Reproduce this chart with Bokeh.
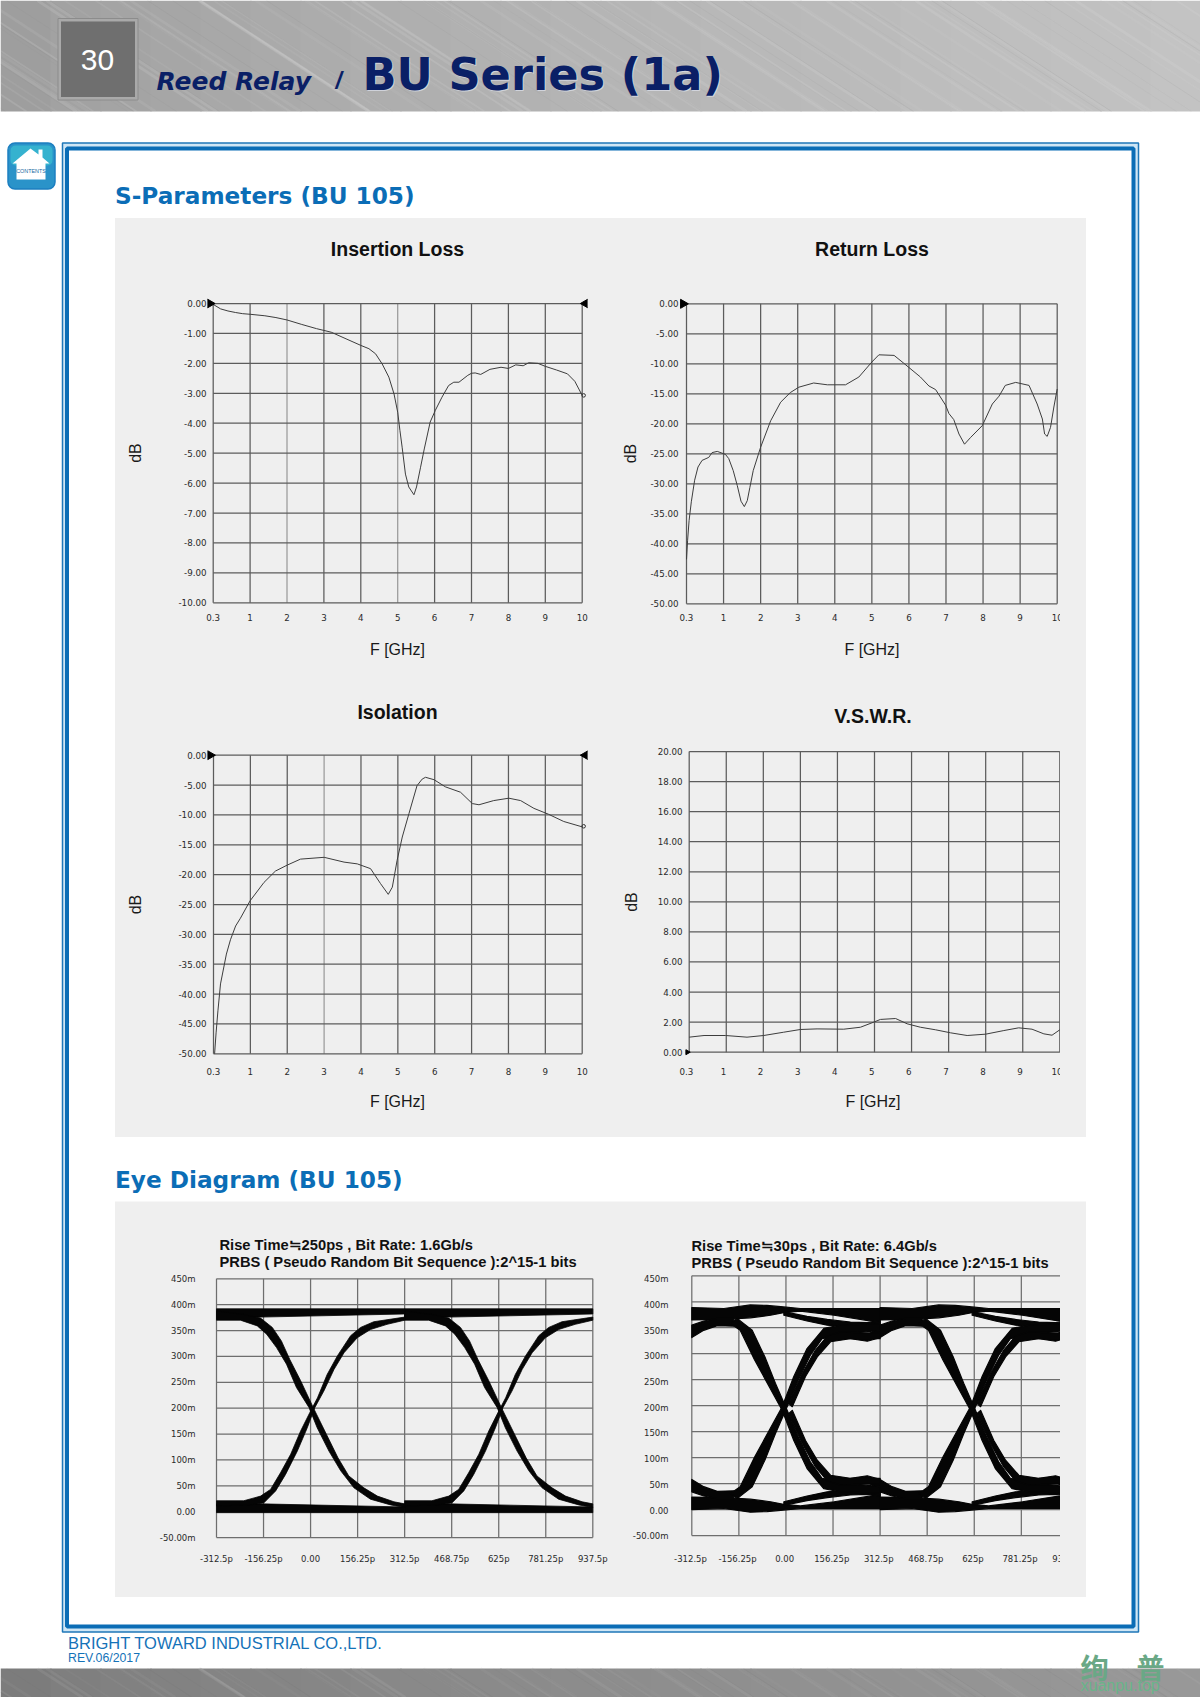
import math
from bokeh.plotting import figure
from bokeh.models import Range1d, LinearAxis, FixedTicker, Title
from bokeh.core.properties import value
from bokeh.embed import file_html
from bokeh.resources import INLINE

# ---------------- data ----------------
FREQ_POS = [0, 1, 2, 3, 4, 5, 6, 7, 8, 9, 10]
FREQ_LABELS = ["0.3", "1", "2", "3", "4", "5", "6", "7", "8", "9", "10"]

IL_TICKS = [0, -1, -2, -3, -4, -5, -6, -7, -8, -9, -10]
IL_LABELS = ["0.00", "-1.00", "-2.00", "-3.00", "-4.00", "-5.00", "-6.00", "-7.00", "-8.00", "-9.00", "-10.00"]
DB50_TICKS = [0, -5, -10, -15, -20, -25, -30, -35, -40, -45, -50]
DB50_LABELS = ["0.00", "-5.00", "-10.00", "-15.00", "-20.00", "-25.00", "-30.00", "-35.00", "-40.00", "-45.00", "-50.00"]
VSWR_TICKS = [0, 2, 4, 6, 8, 10, 12, 14, 16, 18, 20]
VSWR_LABELS = ["0.00", "2.00", "4.00", "6.00", "8.00", "10.00", "12.00", "14.00", "16.00", "18.00", "20.00"]

il_x = [0, .2, .4, .6, .8, 1, 1.4, 1.7, 2, 2.4, 2.8, 3, 3.2, 3.6, 4, 4.22, 4.4, 4.58, 4.76, 4.9, 5, 5.06, 5.12, 5.21, 5.3, 5.44, 5.51, 5.62, 5.72, 5.88, 6.02, 6.2, 6.38, 6.52, 6.66, 6.9, 7, 7.1, 7.25, 7.5, 7.8, 8, 8.2, 8.4, 8.55, 8.8, 9, 9.3, 9.6, 9.8, 10]
il_y = [-.03, -.18, -.25, -.30, -.34, -.36, -.41, -.47, -.55, -.70, -.84, -.90, -.96, -1.18, -1.40, -1.51, -1.68, -2.02, -2.46, -3.02, -3.63, -4.24, -4.8, -5.7, -6.13, -6.39, -6.13, -5.47, -4.86, -3.96, -3.57, -3.13, -2.74, -2.63, -2.63, -2.4, -2.33, -2.32, -2.37, -2.2, -2.13, -2.17, -2.05, -2.08, -1.98, -2.0, -2.1, -2.22, -2.35, -2.6, -3.07]

rl_x = [0, .03, .07, .13, .22, .31, .42, .6, .69, .83, 1.05, 1.14, 1.26, 1.37, 1.47, 1.56, 1.64, 1.71, 1.8, 2, 2.27, 2.54, 2.8, 3.03, 3.43, 3.8, 4.29, 4.65, 5, 5.19, 5.6, 5.86, 6.31, 6.54, 6.72, 6.99, 7.08, 7.21, 7.35, 7.5, 7.66, 7.98, 8.25, 8.43, 8.6, 8.88, 9.24, 9.46, 9.6, 9.66, 9.73, 9.82, 9.91, 10]
rl_y = [-42.6, -39.4, -36.1, -33, -29.4, -27.2, -26.1, -25.6, -24.8, -24.6, -25.1, -25.8, -27.8, -30.3, -32.9, -33.8, -32.8, -30.6, -27.8, -23.9, -19.5, -16.4, -14.8, -13.9, -13.2, -13.5, -13.5, -12.2, -9.7, -8.5, -8.6, -9.9, -12.2, -13.7, -14.3, -16.9, -18.3, -19.3, -21.7, -23.4, -22.3, -20.3, -16.7, -15.4, -13.6, -13.1, -13.6, -16.7, -19.2, -21.7, -22.1, -20.6, -17.2, -14.2]

iso_x = [.03, .07, .12, .19, .35, .46, .6, .73, .99, 1.37, 1.68, 2, 2.36, 3, 3.54, 3.9, 4.26, 4.53, 4.74, 4.85, 4.98, 5.12, 5.3, 5.52, 5.66, 5.75, 5.98, 6.29, 6.7, 7.02, 7.2, 7.6, 8.01, 8.33, 8.69, 9.09, 9.5, 10]
iso_y = [-50, -46.5, -42.8, -38.3, -33.3, -30.9, -28.6, -27.3, -24.4, -21.3, -19.4, -18.4, -17.4, -17.1, -17.9, -18.2, -19.0, -21.5, -23.3, -22.1, -17.6, -13.7, -9.8, -5.1, -4.0, -3.7, -4.1, -5.3, -6.2, -8.1, -8.3, -7.6, -7.2, -7.6, -8.9, -9.9, -11.1, -12.0]

vswr_x = [0, .4, .98, 1.56, 2.01, 2.55, 3, 3.45, 4.17, 4.62, 4.98, 5.16, 5.57, 5.88, 6.24, 6.65, 7.05, 7.5, 8, 8.49, 8.89, 9.25, 9.57, 9.79, 10]
vswr_y = [1.0, 1.11, 1.11, 1.0, 1.11, 1.33, 1.51, 1.55, 1.53, 1.66, 2.0, 2.18, 2.24, 1.89, 1.66, 1.49, 1.29, 1.11, 1.2, 1.44, 1.62, 1.53, 1.22, 1.13, 1.49]

EYE_T_TICKS = [-312.5, -156.25, 0, 156.25, 312.5, 468.75, 625, 781.25, 937.5]
EYE_T_LABELS = ["-312.5p", "-156.25p", "0.00", "156.25p", "312.5p", "468.75p", "625p", "781.25p", "937.5p"]
EYE_V_TICKS = [450, 400, 350, 300, 250, 200, 150, 100, 50, 0, -50]
EYE_V_LABELS = ["450m", "400m", "350m", "300m", "250m", "200m", "150m", "100m", "50m", "0.00", "-50.00m"]
PERIOD = 625

# eye 1 (1.6 Gb/s): each band = (t, mV) along one edge, then (t, mV) along the other, for one bit period
e1_fall = ([-312.5, -222, -166, -127, -97, -69, -33, 9, 53, 91, 127, 177, 222, 277, 312.5],
           [388, 381, 374, 356, 330, 294, 253, 201, 149, 104, 69, 46, 30, 19, 15],
           [-312.5, -233, -177, -146, -113, -80, -47, -5, 22, 61, 100, 144, 199, 266, 312.5],
           [370, 370, 359, 343, 317, 285, 240, 201, 162, 117, 79, 46, 24, 13, 8])
e1_rise = ([-312.5, -222, -166, -133, -100, -66, -33, -2, 23, 55, 89, 133, 166, 210, 312.5],
           [21, 21, 30, 43, 75, 111, 156, 192, 220, 265, 301, 340, 356, 367, 376],
           [-312.5, -199, -155, -116, -83, -44, -11, 14, 44, 78, 111, 155, 199, 254, 312.5],
           [11, 13, 17, 40, 72, 117, 162, 201, 233, 275, 307, 336, 352, 362, 370])
e1_top = ([-312.5, 312.5], [392, 392], [-312.5, -166, 312.5], [372, 376, 382])
e1_bot = ([-312.5, -166, 312.5], [15, 15, 9], [-312.5, 312.5], [-2, -2])

# eye 2 (6.4 Gb/s)
RAIL_T = [-312.5, -206, -118, -63, -8, 48, 160, 312.5]
RAIL2_T = [-312.5, -206, -118, -51, -8, 48, 160, 312.5]
e2_top = (RAIL_T, [389, 387, 394, 393, 390, 387, 387, 387], RAIL2_T, [365, 366, 369, 374, 379, 382, 374, 360])
e2_bot = (RAIL_T, [0, 2, -5, -4, -1, 2, 2, 2], RAIL2_T, [24, 23, 20, 15, 10, 7, 15, 29])
DIP_T = [-7, 70, 137, 214, 270, 312.5]
e2_dip_top = (DIP_T, [381, 372, 366, 361, 360, 363], DIP_T, [374, 363, 355, 351, 351, 355])
e2_dip_bot = (DIP_T, [8, 17, 23, 28, 29, 26], DIP_T, [15, 26, 34, 38, 38, 34])
LOW_T = [137, 214, 270, 312.5]
e2_low_top = (LOW_T, [345, 339, 336, 352], LOW_T, [333, 329, 324, 331])
e2_low_bot = (LOW_T, [44, 50, 53, 37], LOW_T, [56, 60, 65, 58])
WRAP_T = [-312.5, -273, -228, -173]
e2_wrap_top = (WRAP_T, [355, 363, 368, 368], WRAP_T, [331, 345, 354, 353])
e2_wrap_bot = (WRAP_T, [34, 26, 21, 21], WRAP_T, [58, 44, 35, 36])
e2_rise1 = ([-184, -152, -104, -55, -12.6, 26, 70, 126, 181, 312.5], [31, 44, 101, 153, 198, 256, 310, 349, 355, 358],
            [-162, -112, -70, -35, 4, 43, 81, 120, 214, 312.5], [21, 44, 95, 146, 198, 252, 297, 329, 339, 345])
e2_rise2 = ([9.5, 54, 98, 137, 181, 258, 312.5], [204, 262, 307, 334, 342, 340, 340],
            [21, 65, 104, 148, 214, 312.5], [198, 256, 294, 323, 329, 329])
e2_fall1 = ([-184, -152, -104, -55, -12.6, 26, 70, 126, 181, 312.5], [358, 345, 288, 236, 191, 133, 79, 40, 34, 31],
            [-162, -112, -70, -35, 4, 43, 81, 120, 214, 312.5], [368, 345, 294, 243, 191, 137, 92, 60, 50, 44])
e2_fall2 = ([9.5, 54, 98, 137, 181, 258, 312.5], [185, 127, 82, 55, 47, 49, 49],
            [21, 65, 104, 148, 214, 312.5], [191, 133, 95, 66, 60, 60])

# ---------------- page furniture ----------------
SANS = value("Liberation Sans")
DJ = value("DejaVu Sans")
BLUE = "#0b6db6"

bg = figure(width=1200, height=1697, x_range=Range1d(0, 1200), y_range=Range1d(1697, 0),
            x_axis_type=None, y_axis_type=None, min_border_left=0, min_border_right=0, min_border_top=0,
            min_border_bottom=0, outline_line_color=None,
            toolbar_location=None, output_backend="svg", background_fill_color="white", border_fill_color="white",
            styles={"position": "absolute", "left": "0px", "top": "0px"})
bg.xgrid.visible = False
bg.ygrid.visible = False


def band_texture(top, bottom, g_left, g_right, light, dark, dx, strength):
    n = 24
    stops_l = [1200 * i / n for i in range(n)]
    cols = []
    for i in range(n):
        c = int(g_left + (g_right - g_left) * (i / (n - 1)) ** 0.7)
        cols.append("#%02x%02x%02x" % (c, c, c))
    bg.quad(left=stops_l, right=[s + 1200 / n + 1 for s in stops_l], top=[top] * n, bottom=[bottom] * n,
            fill_color=cols, line_color=None)
    xs0, xs1, lw, colr, al = [], [], [], [], []
    for i in range(110):
        x = (i * 97 + (i * i * 13) % 61) % 1500 - 200
        xs0.append(x)
        xs1.append(x + dx)
        lw.append(0.8 + (i * 7) % 3)
        colr.append(light if i % 3 else dark)
        al.append(strength * (0.15 + ((i * 5) % 4) * 0.06))
    bg.segment(x0=xs0, y0=[top] * 110, x1=xs1, y1=[bottom] * 110, line_width=lw, line_color=colr, line_alpha=al)


band_texture(0, 111, 158, 195, "#dedede", "#8a8a8a", 170, 0.55)
band_texture(1668, 1697, 124, 152, "#b5b5b5", "#6e6e6e", 45, 0.5)

# page-number box
bg.quad(left=[57.5], right=[137.5], top=[18], bottom=[99.5], fill_color="#a9a9a9", line_color="#8c8c8c", line_width=1)
bg.quad(left=[60.5], right=[134.5], top=[21], bottom=[96.5], fill_color="#6f6f6f", line_color=None)
bg.text(x=[97], y=[59], text=["30"], text_font=SANS, text_font_size="30px", text_color="white",
        text_align="center", text_baseline="middle")
# header texts
bg.text(x=[363], y=[75], text=["BU Series (1a)"], text_font=DJ, text_font_size="44.7px", text_font_style="bold",
        text_color="#dfe3ee", text_alpha=0.7, text_baseline="alphabetic")
bg.text(x=[362], y=[74], text=["BU Series (1a)"], text_font=DJ, text_font_size="44.7px", text_font_style="bold",
        text_color="#0a1f66", text_baseline="alphabetic")
bg.text(x=[156], y=[80.5], text=["Reed Relay"], text_font=DJ, text_font_size="25px", text_font_style="bold italic",
        text_color="#0a1f66", text_baseline="alphabetic")
bg.text(x=[335], y=[80.5], text=["/"], text_font=SANS, text_font_size="23px", text_font_style="bold italic",
        text_color="#0a1f66", text_baseline="alphabetic")

# double blue frame
bg.quad(left=[62], right=[1138], top=[142.5], bottom=[1631.5], fill_color="#cfe6f5", line_color="#1f77b8", line_width=1.5)
bg.quad(left=[66.5], right=[1133], top=[148], bottom=[1626], fill_color="white", line_color=BLUE, line_width=4)

# contents icon
bg.quad(left=[7.5], right=[54.5], top=[142.5], bottom=[188.5], fill_color="#2a93c9", line_color="#1c7fc0",
        line_width=1.5, border_radius=7)
bg.quad(left=[10], right=[52], top=[145], bottom=[165], fill_color="#35b2cf", line_color=None, border_radius=5)
bg.patch(x=[12, 30, 38, 38, 42, 42, 49, 45, 45, 16, 16], y=[163, 148, 154, 149, 149, 157, 163, 163, 179, 179, 163],
         fill_color="white", line_color=None)
bg.text(x=[30.5], y=[170.5], text=["CONTENTS"], text_font=SANS, text_font_size="5.4px",
        text_color="#14689f", text_align="center", text_baseline="middle")

# section headings and grey panels
bg.text(x=[114.5], y=[195], text=["S-Parameters (BU 105)"], text_font=DJ, text_font_size="23.2px", text_font_style="bold",
        text_color=BLUE, text_baseline="alphabetic")
bg.text(x=[114.5], y=[1179], text=["Eye Diagram (BU 105)"], text_font=DJ, text_font_size="23.2px", text_font_style="bold",
        text_color=BLUE, text_baseline="alphabetic")
bg.quad(left=[114.5, 114.5], right=[1085.5, 1085.5], top=[217.5, 1201], bottom=[1136.5, 1596.5],
        fill_color="#efefef", line_color=None)

# footer
bg.text(x=[67.5], y=[1642.5], text=["BRIGHT TOWARD INDUSTRIAL CO.,LTD."], text_font=SANS, text_font_size="16.5px",
        text_color="#1472b8", text_baseline="middle")
bg.text(x=[67.5], y=[1657], text=["REV.06/2017"], text_font=SANS, text_font_size="12.3px",
        text_color="#1472b8", text_baseline="middle")
bg.text(x=[1080], y=[1666], text=["绚　普"], text_font=value("Noto Sans CJK SC"), text_font_size="28px",
        text_font_style="bold", text_color="#6aa886", text_baseline="middle")
bg.text(x=[1080], y=[1685], text=["xuanpu.top"], text_font=SANS, text_font_size="16px",
        text_color="#69b58a", text_baseline="middle")


# ---------------- charts ----------------
def make_chart(grid, xr, yr, xticks, xlabels, yticks, ylabels, label_right, label_cy, frame_right, box,
               clip_right=None, x_shift=0.0, y_labels_px=None, title=None, title_kw=None, xlabel=None, ylabel=None,
               xlabel_standoff=18, ylabel_standoff=20, tick_font="8.7px", grid_color="#5c5c5c", light_x=(),
               title_standoff=None, pad_top=6):
    gl, gr, gt, gb = grid
    fig_l, fig_t, fig_r, fig_b = box
    fl, fr, ft, fb = int(round(label_right + 1)), int(round(frame_right)), int(round(gt - pad_top)), int(round(gb + 6))
    ux = (gr - gl) / (xr[1] - xr[0])
    uy = (gb - gt) / (yr[1] - yr[0])
    x_range = Range1d(xr[0] - (gl - fl) / ux, xr[1] + (fr - gr) / ux)
    y_range = Range1d(yr[0] - (fb - gb) / uy, yr[1] + (gt - ft) / uy)
    styles = {"position": "absolute", "left": f"{fig_l}px", "top": f"{fig_t}px"}
    if clip_right is not None:
        styles["clip-path"] = f"inset(0px {fig_r - clip_right}px 0px 0px)"
    p = figure(width=fig_r - fig_l, height=fig_b - fig_t, x_range=x_range, y_range=y_range,
               x_axis_type=None, y_axis_type=None, toolbar_location=None, output_backend="svg",
               min_border_left=fl - fig_l, min_border_right=fig_r - fr, min_border_top=ft - fig_t,
               min_border_bottom=fig_b - fb, outline_line_color=None, background_fill_color=None,
               border_fill_color=None, styles=styles)
    p.xgrid.visible = False
    p.ygrid.visible = False
    # label axes (their own ranges: the printed labels are not exactly aligned with the grid in the source)
    p.extra_x_ranges["xlab"] = Range1d(x_range.start + x_shift / ux, x_range.end + x_shift / ux)
    lt, lb = y_labels_px if y_labels_px else (gt, gb)
    ul = (lb - lt) / (yr[1] - yr[0])
    p.extra_y_ranges["ylab"] = Range1d(yr[0] - (fb - lb) / ul, yr[1] + (lt - ft) / ul)
    ax = LinearAxis(x_range_name="xlab", ticker=FixedTicker(ticks=xticks),
                    major_label_overrides=dict(zip(xticks, xlabels)))
    ay = LinearAxis(y_range_name="ylab", ticker=FixedTicker(ticks=yticks),
                    major_label_overrides=dict(zip(yticks, ylabels)))
    for a in (ax, ay):
        a.axis_line_color = None
        a.major_tick_line_color = None
        a.minor_tick_line_color = None
        a.major_tick_in = 0
        a.major_tick_out = 0
        a.major_label_text_font = "DejaVu Sans"
        a.major_label_text_font_size = tick_font
        a.major_label_text_color = "#2a2a2a"
        a.axis_label_text_font = "Liberation Sans"
        a.axis_label_text_font_size = "16px"
        a.axis_label_text_font_style = "normal"
        a.axis_label_text_color = "#1a1a1a"
    ax.major_label_standoff = int(round(label_cy - 5 - fb))
    ay.major_label_standoff = 1
    ay.major_label_orientation = "horizontal"
    ax.major_label_orientation = "horizontal"
    if xlabel:
        ax.axis_label = xlabel
        ax.axis_label_standoff = xlabel_standoff
    if ylabel:
        ay.axis_label = ylabel
        ay.axis_label_standoff = ylabel_standoff
    p.add_layout(ax, "below")
    p.add_layout(ay, "left")
    # grid
    xc = ["#9a9a9a" if t in light_x else grid_color for t in xticks]
    p.segment(x0=xticks, x1=xticks, y0=[yr[0]] * len(xticks), y1=[yr[1]] * len(xticks), line_color=xc, line_width=1.25)
    p.segment(x0=[xr[0]] * len(yticks), x1=[xr[1]] * len(yticks), y0=yticks, y1=yticks, line_color=grid_color, line_width=1.25)
    if title:
        kw = dict(text_font="Liberation Sans", text_font_size="19.5px", text_font_style="bold", text_color="#111111",
                  align="center")
        kw.update(title_kw or {})
        if title_standoff is not None:
            kw["standoff"] = title_standoff
        p.title = Title(text=title, **kw)
    return p


def arrows(p, xs, ys, angles, size=9):
    p.scatter(x=xs, y=ys, marker="triangle", size=size, angle=angles, fill_color="black", line_color="black")


def bands(p, items, shifts=(0, PERIOD), edge=0.3):
    xs, ys = [], []
    for (ta, va, tb, vb) in items:
        for s in shifts:
            xs.append([t + s for t in ta] + [t + s for t in reversed(tb)])
            ys.append(list(va) + list(reversed(vb)))
    p.patches(xs, ys, fill_color="#050505", line_color="#050505", line_width=edge, line_join="round")


R, L = -math.pi / 2, math.pi / 2

il = make_chart((212.7, 581.7, 303, 602.3), (0, 10), (-10, 0), FREQ_POS, FREQ_LABELS, IL_TICKS, IL_LABELS,
                206, 618, 587, (60, 160, 640, 665), title="Insertion Loss", xlabel="F [GHz]", ylabel="dB",
                xlabel_standoff=17, ylabel_standoff=31, light_x=(2, 5), title_standoff=75)
il.line(il_x, il_y, line_color="#3d3d3d", line_width=1)
il.scatter([10.04], [-3.07], marker="circle", size=3.5, fill_color=None, line_color="#333333")
arrows(il, [-0.09, 10.09], [0, 0], [R, L])

rl = make_chart((686, 1056.7, 303.3, 603.3), (0, 10), (-50, 0), FREQ_POS, FREQ_LABELS, DB50_TICKS, DB50_LABELS,
                678.3, 618, 1064, (560, 160, 1110, 665), clip_right=1060, title="Return Loss", xlabel="F [GHz]",
                ylabel="dB", xlabel_standoff=17, ylabel_standoff=8, title_standoff=75)
rl.line(rl_x, rl_y, line_color="#3d3d3d", line_width=1)
arrows(rl, [-0.09], [0], [R])

iso = make_chart((213, 581.7, 754.7, 1053.3), (0, 10), (-50, 0), FREQ_POS, FREQ_LABELS, DB50_TICKS, DB50_LABELS,
                 206, 1072, 587, (60, 620, 640, 1125), title="Isolation", xlabel="F [GHz]", ylabel="dB",
                 xlabel_standoff=15, ylabel_standoff=31, light_x=(3,), title_standoff=54)
iso.line(iso_x, iso_y, line_color="#3d3d3d", line_width=1)
iso.scatter([10.04], [-11.9], marker="circle", size=3.5, fill_color=None, line_color="#333333")
arrows(iso, [-0.09, 10.09], [0, 0], [R, L])

vs = make_chart((688.7, 1059.3, 751, 1051.7), (0, 10), (0, 20), FREQ_POS, FREQ_LABELS, VSWR_TICKS, VSWR_LABELS,
                681.7, 1072, 1062, (560, 620, 1110, 1125), clip_right=1060, x_shift=2.7, title="V.S.W.R.",
                xlabel="F [GHz]", ylabel="dB", xlabel_standoff=15, ylabel_standoff=15, title_standoff=37)
vs.line(vswr_x, vswr_y, line_color="#3d3d3d", line_width=1)
arrows(vs, [-0.05], [0], [R], size=5)

EYE_TITLE = dict(text_font_size="14.7px", align="left", text_line_height=1.09)
e1 = make_chart((216, 592.3, 1278.3, 1537), (-312.5, 937.5), (-50, 450), EYE_T_TICKS, EYE_T_LABELS, EYE_V_TICKS,
                EYE_V_LABELS, 195, 1558, 620, (120, 1180, 660, 1590),
                title="Rise Time≒250ps , Bit Rate: 1.6Gb/s\nPRBS ( Pseudo Random Bit Sequence ):2^15-1 bits",
                title_kw=dict(EYE_TITLE, offset=23), tick_font="8.5px", grid_color="#6e6e6e", title_standoff=4)
bands(e1, [e1_top, e1_bot, e1_fall, e1_rise], edge=0.8)

e2 = make_chart((691.3, 1067.9, 1275.3, 1535), (-312.5, 937.5), (-50, 450), EYE_T_TICKS, EYE_T_LABELS, EYE_V_TICKS,
                EYE_V_LABELS, 668.3, 1558, 1072, (600, 1180, 1110, 1590), clip_right=1060, x_shift=1.3,
                y_labels_px=(1278.7, 1535.7),
                title="Rise Time≒30ps , Bit Rate: 6.4Gb/s\nPRBS ( Pseudo Random Bit Sequence ):2^15-1 bits",
                title_kw=dict(EYE_TITLE, offset=22), tick_font="8.5px", grid_color="#6e6e6e", title_standoff=2, pad_top=3)
bands(e2, [e2_top, e2_bot, e2_dip_top, e2_dip_bot, e2_low_top, e2_low_bot, e2_wrap_top, e2_wrap_bot,
           e2_rise1, e2_rise2, e2_fall1, e2_fall2], edge=1.2)

open("out.html", "w").write(file_html((bg, il, rl, iso, vs, e1, e2), INLINE))
